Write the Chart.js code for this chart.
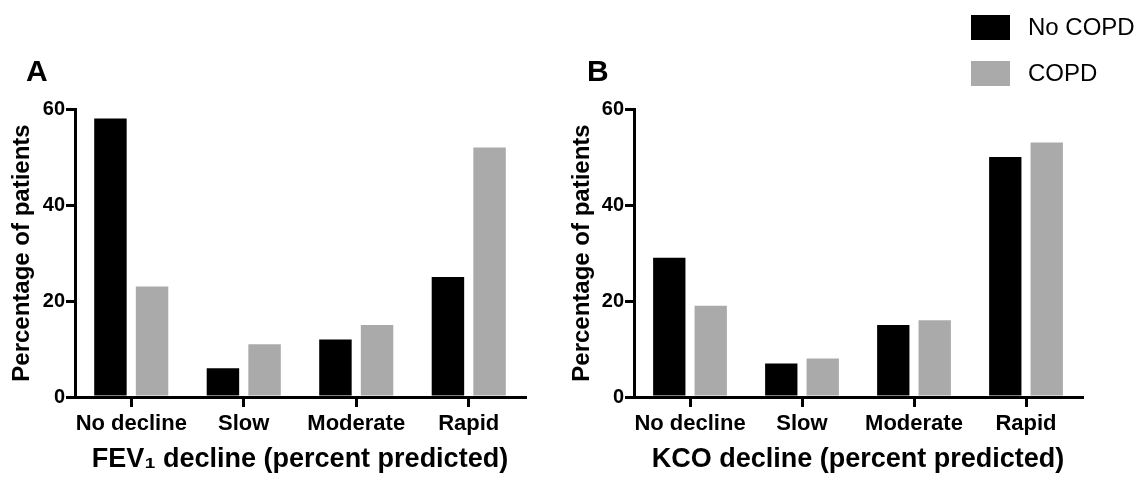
<!DOCTYPE html>
<html>
<head>
<meta charset="utf-8">
<script src="https://cdn.jsdelivr.net/npm/chart.js@4.4.1/dist/chart.umd.min.js"></script>
<style>
  body { margin: 0; background: #fff; font-family: "Liberation Sans", Arial, sans-serif; }
  #wrap { position: relative; width: 1144px; height: 478px; overflow: hidden; }
  .panel { position: absolute; top: 0; height: 478px; }
  .tag { position: absolute; top: 54px; font-size: 30px; font-weight: bold; }
  .legend { position: absolute; left: 971px; font-size: 24px; }
  .legend span { position: absolute; width: 39px; height: 25px; left: 0; }
  .legend div { position: absolute; left: 57px; top: -2px; white-space: nowrap; }
</style>
</head>
<body>
<div id="wrap">
  <div class="panel" style="left:0;width:560px"><canvas id="chartA"></canvas></div>
  <div class="panel" style="left:560px;width:584px"><canvas id="chartB"></canvas></div>
  <div class="tag" style="left:26px">A</div>
  <div class="tag" style="left:587px">B</div>
  <div class="legend" style="top:15px"><span style="background:#000"></span><div>No COPD</div></div>
  <div class="legend" style="top:61px"><span style="background:#aaaaaa"></span><div>COPD</div></div>
</div>
<script>
// data
const categories = ["No decline", "Slow", "Moderate", "Rapid"];
const fevNoCopd = [58, 6, 12, 25];
const fevCopd = [23, 11, 15, 52];
const kcoNoCopd = [29, 7, 15, 50];
const kcoCopd = [19, 8, 16, 53];
const yTicks = [0, 20, 40, 60];

const font = '"Liberation Sans", Arial, sans-serif';

function makeChart(id, noCopd, copd, xTitle, leftW, padRight) {
  const ctx = document.getElementById(id).getContext("2d");
  return new Chart(ctx, {
    type: "bar",
    data: {
      labels: categories,
      datasets: [
        { label: "No COPD", data: noCopd, backgroundColor: "#000000" },
        { label: "COPD", data: copd, backgroundColor: "#aaaaaa" }
      ]
    },
    options: {
      responsive: true,
      maintainAspectRatio: false,
      animation: false,
      layout: { padding: { top: 109, right: padRight, left: 0, bottom: 0 } },
      datasets: { bar: { categoryPercentage: 0.74, barPercentage: 0.78 } },
      plugins: { legend: { display: false }, tooltip: { enabled: false } },
      scales: {
        x: {
          afterFit: (s) => { s.height = 81; },
          grid: { display: true, drawOnChartArea: false, offset: false, tickLength: 10, color: "#000", lineWidth: 3 },
          border: { color: "#000", width: 3 },
          ticks: { color: "#000", padding: 4, maxRotation: 0, autoSkip: false, font: { family: font, size: 22, weight: "bold" } },
          title: { display: true, text: xTitle, color: "#000", padding: { top: 0, bottom: 2 }, font: { family: font, size: 27, weight: "bold" } }
        },
        y: {
          min: yTicks[0],
          max: yTicks[yTicks.length - 1],
          afterFit: (s) => { s.width = leftW; },
          afterBuildTicks: (s) => { s.ticks = yTicks.map((v) => ({ value: v })); },
          grid: { display: true, drawOnChartArea: false, tickLength: 9, color: "#000", lineWidth: 3 },
          border: { color: "#000", width: 3 },
          ticks: { color: "#000", padding: 1, font: { family: font, size: 20, weight: "bold" } },
          title: { display: true, text: "Percentage of patients", color: "#000", padding: { top: 8, bottom: 0 }, font: { family: font, size: 24, weight: "bold" } }
        }
      }
    }
  });
}

makeChart("chartA", fevNoCopd, fevCopd, "FEV\u2081 decline (percent predicted)", 75, 35);
makeChart("chartB", kcoNoCopd, kcoCopd, "KCO decline (percent predicted)", 74, 62);
</script>
</body>
</html>
